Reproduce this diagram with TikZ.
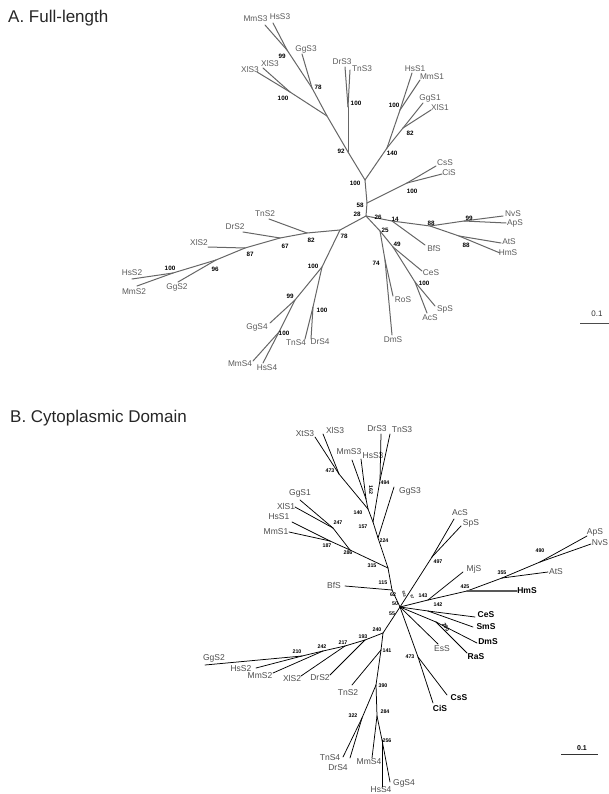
\documentclass[tikz,border=0pt]{standalone}
\usepackage{fontspec}
\setmainfont{Liberation Sans}
\usetikzlibrary{positioning}

\tikzset{
  branchA/.style={draw=black!60, line width=1pt, line cap=round},
  branchB/.style={draw=black, line width=0.75pt, line cap=round},
  leafA/.style={font=\fontsize{8.3}{9}\selectfont, text=black!65, inner sep=0pt},
  leafB/.style={font=\fontsize{8.5}{9}\selectfont, text=black!70, inner sep=0pt},
  leafBoldB/.style={font=\fontsize{8.5}{9}\selectfont\bfseries, text=black, inner sep=0pt},
  bootA/.style={font=\fontsize{6.3}{7}\selectfont\bfseries, inner sep=0pt},
  bootB/.style={font=\fontsize{5.3}{6}\selectfont\bfseries, inner sep=0pt},
  tinyB/.style={font=\fontsize{3.6}{4}\selectfont\bfseries, inner sep=0pt},
  paneltitle/.style={font=\fontsize{17}{19}\selectfont, anchor=base west, inner sep=0pt, text=black!85}
}

\begin{document}
\begin{tikzpicture}[x=1pt,y=-1pt]
 \useasboundingbox (0,0) rectangle (609,794);

 %Name
 \node[paneltitle] (titleA) at (8,23) {A. Full-length};
 \node[paneltitle] (titleB) at (10,422) {B. Cytoplasmic Domain};

 %Coordinates (panel A, inner nodes)
 \foreach \n/\x/\y in {A0/366/216, A58/367/203, A100r/365/180, A92/348/152, A3x/327/116,
   A78t/312/88, A99/287/50, A100x/290/92, A100d/348/107, A140/387/148, A100s1/400/110,
   A82s1/403/128, A100c/407/183, A14/392/221, A88a/430/226, A99n/464/221, A88b/459/236,
   A25/380/231, A49/393/247, A100sp/415/282, A74/385/260, A78/340/230, A82/307/233,
   A67/280/238, A87/245/248, A96/216/260, A100h/173/273, A100s4/322/267, A99g/295/300,
   A100m/279/332, A100t/313/307}
   \coordinate (\n) at (\x,\y);

 %Leaves (panel A)
 \foreach \n/\cx/\cy/\lx/\ly/\t in {MmS3a/265/25/255.5/19/MmS3, HsS3a/273/23/280/17/HsS3,
   GgS3a/302/54/306/49/GgS3, XlS3a/263/68/270/64/XlS3, XlS3aa/257/72/250/70/XlS3,
   DrS3a/345/67/342/62/DrS3, TnS3a/350/70/362/69/TnS3, HsS1a/412/73/415/69/HsS1,
   MmS1a/420/80/432/77/MmS1, GgS1a/423/103/430/98/GgS1, XlS1a/431/110/440/108/XlS1,
   CsSa/436/166/445/163/CsS, CiSa/442/174/449/173/CiS, NvSa/503/216/513/214/NvS,
   ApSa/506/223/515/223/ApS, AtSa/501/243/509/242/AtS, HmSa/500/253/508/253/HmS,
   BfSa/425/245/434/249/BfS, CeSa/422/271/431/273/CeS, SpSa/435/306/445/309/SpS,
   AcSa/427/313/430/318/AcS, RoSa/393/296/403/300/RoS, DmSa/392/335/393/340/DmS,
   TnS2a/269/219/265/214/TnS2, DrS2a/243/232/235/227/DrS2, XlS2a/208/247/199/243/XlS2,
   HsS2a/132/279/132/273/HsS2, MmS2a/137/286/134/292/MmS2, GgS2a/178/282/177/287/GgS2,
   GgS4a/270/323/257/327/GgS4, MmS4a/253/361/240/364/MmS4, HsS4a/263/363/267/368/HsS4,
   TnS4a/305/339/296/343/TnS4, DrS4a/311/339/320/342/DrS4}
 {
   \coordinate (\n) at (\cx,\cy);
   \node[leafA] (\n label) at (\lx,\ly) {\t};
 }

 %Branches (panel A)
 \foreach \a/\b in {A0/A58, A58/A100r, A100r/A92, A92/A3x, A3x/A78t, A78t/A99, A99/MmS3a,
   A99/HsS3a, A78t/GgS3a, A3x/A100x, A100x/XlS3a, A100x/XlS3aa, A92/A100d, A100d/DrS3a,
   A100d/TnS3a, A100r/A140, A140/A100s1, A100s1/HsS1a, A100s1/MmS1a, A140/A82s1,
   A82s1/GgS1a, A82s1/XlS1a, A58/A100c, A100c/CsSa, A100c/CiSa, A0/A14, A14/BfSa,
   A14/A88a, A88a/A99n, A99n/NvSa, A99n/ApSa, A88a/A88b, A88b/AtSa, A88b/HmSa, A0/A25,
   A25/A49, A49/CeSa, A49/A100sp, A100sp/SpSa, A100sp/AcSa, A25/A74, A74/RoSa, A74/DmSa,
   A0/A78, A78/A82, A82/TnS2a, A82/A67, A67/DrS2a, A67/A87, A87/XlS2a, A87/A96,
   A96/GgS2a, A96/A100h, A100h/HsS2a, A100h/MmS2a, A78/A100s4, A100s4/A99g,
   A99g/GgS4a, A99g/A100m, A100m/MmS4a, A100m/HsS4a, A100s4/A100t, A100t/TnS4a,
   A100t/DrS4a}
   \draw[branchA] (\a) -- (\b);

 %Bootstrap values (panel A)
 \foreach \x/\y/\t [count=\i] in {282/56/99, 318/87/78, 283/98/100, 356/103/100, 341/151/92,
   355/183/100, 394/105/100, 410/133/82, 392/153/140, 412/191/100, 360/205/58, 357/214/28,
   378/217/26, 395/219/14, 431/223/88, 469/218/99, 466/245/88, 385/230/25, 397/244/49,
   376/263/74, 424/283/100, 344/236/78, 311/240/82, 285/246/67, 250/254/87, 215/269/96,
   170/268/100, 313/266/100, 290/296/99, 322/310/100, 284/333/100}
   \node[bootA] (bootA\i) at (\x,\y) {\t};

 %Scale (panel A)
 \coordinate (scaleAleft) at (580,323);
 \coordinate (scaleAright) at (609,323);
 \draw[black!70, line width=0.9pt] (scaleAleft) -- (scaleAright);
 \node[font=\fontsize{8}{9}\selectfont, inner sep=0pt, text=black!80] (scaleAtext) at (597,314) {0.1};

 %Coordinates (panel B, inner nodes)
 \foreach \n/\x/\y in {B0/400/607, B115/392/590, B315/388/568, B224/378/538, B157/373/522,
   B494/380/480, B140/368/509, B162/366/499, B473/339/474, B286/350/550, B247/333/528,
   B187/330/541, B497/432/557, B143/428/600, B425/467/591, B355/502/578, B490/540/562,
   B142/428/611, B280/436/622, B473c/418/657, B240/383/633, B193/365/640, B217/345/646,
   B242/323/651, B210/302/656, B141/381/650, B390/376/685, B322/362/718, B284/377/716,
   B256/382/740}
   \coordinate (\n) at (\x,\y);

 %Leaves (panel B)
 \foreach \n/\cx/\cy/\lx/\ly/\t in {XtS3b/315/437/305/434/XtS3, XlS3b/323/434/335/430/XlS3,
   MmS3b/352/460/349/452/MmS3, HsS3b/361/459/373/456/HsS3, DrS3b/381/434/377/429/DrS3,
   TnS3b/390/434/402/430/TnS3, GgS3b/394/487/410/491/GgS3, GgS1b/300/500/300/493/GgS1,
   XlS1b/295/507/286/506/XlS1, HsS1b/292/522/279/517/HsS1, MmS1b/289/532/276/532/MmS1,
   BfSb/345/586/334/585/BfS, AcSb/454/519/460/513/AcS, SpSb/461/526/471/523/SpS,
   MjSb/463/572/474/569/MjS, AtSb/548/572/556/572/AtS, ApSb/587/536/595/532/ApS,
   NvSb/591/544/600/543/NvS, EsSb/438/644/442/649/EsS, GgS2b/205/665/214/658/GgS2,
   HsS2b/256/668/241/669/HsS2, MmS2b/273/673/260/676/MmS2, XlS2b/301/676/292/678/XlS2,
   DrS2b/330/675/320/678/DrS2, TnS2b/352/685/348/693/TnS2, TnS4b/343/757/330/758/TnS4,
   DrS4b/350/758/338/768/DrS4, MmS4b/372/758/369/762/MmS4, HsS4b/382/787/381/790/HsS4,
   GgS4b/390/782/404/783/GgS4}
 {
   \coordinate (\n) at (\cx,\cy);
   \node[leafB] (\n label) at (\lx,\ly) {\t};
 }
 \foreach \n/\cx/\cy/\lx/\ly/\t in {HmSb/517/591/527/591/HmS, CeSb/475/617/486/615/CeS,
   SmSb/473/627/486/627/SmS, DmSb/477/643/488/642/DmS, RaSb/467/653/476/657/RaS,
   CsSb/447/695/459/698/CsS, CiSb/433/703/440/708/CiS}
 {
   \coordinate (\n) at (\cx,\cy);
   \node[leafBoldB] (\n label) at (\lx,\ly) {\t};
 }

 %Branches (panel B)
 \foreach \a/\b in {B0/B115, B115/BfSb, B115/B315, B315/B286, B286/B247, B247/GgS1b,
   B247/XlS1b, B286/B187, B187/HsS1b, B187/MmS1b, B315/B224, B224/GgS3b, B224/B157,
   B157/B494, B494/DrS3b, B494/TnS3b, B157/B140, B140/B162, B162/MmS3b, B162/HsS3b,
   B140/B473, B473/XtS3b, B473/XlS3b, B0/B497, B497/AcSb, B497/SpSb, B0/B143,
   B143/MjSb, B143/B425, B425/B355, B355/AtSb, B355/B490, B490/ApSb, B490/NvSb,
   B0/B142, B142/CeSb, B142/SmSb, B0/B280, B280/DmSb, B280/RaSb, B0/EsSb, B0/B473c,
   B473c/CsSb, B473c/CiSb, B0/B240, B240/B193, B193/DrS2b, B193/B217, B217/XlS2b,
   B217/B242, B242/MmS2b, B242/B210, B210/HsS2b, B210/GgS2b, B240/B141, B141/TnS2b,
   B141/B390, B390/B322, B322/TnS4b, B322/DrS4b, B390/B284, B284/MmS4b, B284/B256,
   B256/GgS4b, B256/HsS4b}
   \draw[branchB] (\a) -- (\b);
 \draw[branchB, draw=black!65, line width=1.4pt] (B425) -- (HmSb);

 %Bootstrap values (panel B)
 \foreach \x/\y/\t [count=\i] in {330/471/473, 385/483/494, 358/513/140, 363/527/157,
   384/541/224, 338/523/247, 327/546/187, 348/553/286, 372/566/315, 383/583/115,
   438/562/497, 423/596/143, 465/587/425, 502/573/355, 540/551/490, 438/605/142,
   410/657/473, 393/595/62, 395/604/50, 392/614/55, 377/630/240, 363/637/193,
   343/643/217, 322/647/242, 297/652/210, 387/651/141, 383/686/390, 353/716/322,
   385/712/284, 387/741/256}
   \node[bootB] (bootB\i) at (\x,\y) {\t};
 \node[bootB, rotate=-90] (bootB162) at (371,490) {162};
 \node[bootB, rotate=-60] (bootB280) at (446,627) {280};
 \node[tinyB, rotate=-70] (bootBc1) at (404,594) {363};
 \node[tinyB, rotate=-70] (bootBc2) at (412,597) {97};

 %Scale (panel B)
 \coordinate (scaleBleft) at (561,754);
 \coordinate (scaleBright) at (598,754);
 \draw[black!80, line width=0.9pt] (scaleBleft) -- (scaleBright);
 \node[font=\fontsize{7}{8}\selectfont\bfseries, inner sep=0pt] (scaleBtext) at (582,748) {0.1};

\end{tikzpicture}
\end{document}
